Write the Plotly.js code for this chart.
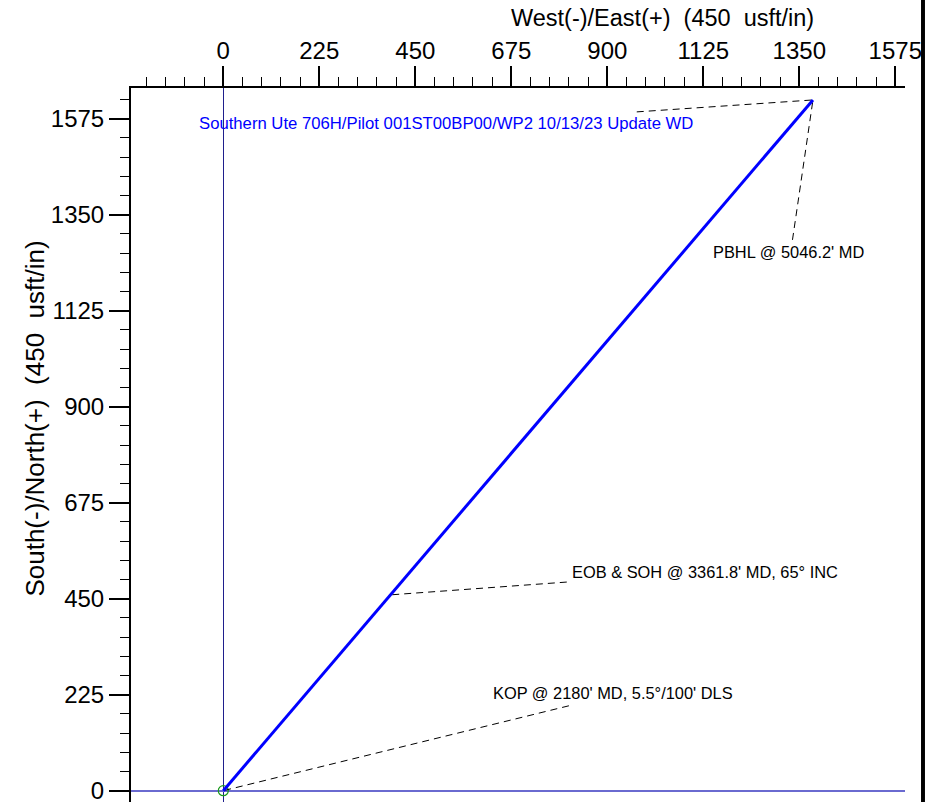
<!DOCTYPE html>
<html>
<head>
<meta charset="utf-8">
<script src="https://cdn.plot.ly/plotly-3.0.1.min.js"></script>
<style>
html,body{margin:0;padding:0;background:#fff;}
#chart{width:932px;height:802px;}
</style>
</head>
<body>
<div id="chart"></div>
<script>
// Well path (plan view), usft
const pathEast  = [0, 0, 392, 1382];
const pathNorth = [0, 0, 459, 1619];

// Annotated points on the path: index into path arrays
const labelNames = [
  "Southern Ute 706H/Pilot 001ST00BP00/WP2 10/13/23 Update WD",
  "PBHL @ 5046.2' MD",
  "EOB & SOH @ 3361.8' MD, 65° INC",
  "KOP @ 2180' MD, 5.5°/100' DLS"
];
const labelPointIdx = [3, 3, 2, 1];
// Label text positions (data units)
const labelEast  = [521, 1325, 1128, 914];
const labelNorth = [1563, 1263, 513, 228];
// Leader line start points (data units)
const leaderEast  = [969, 1334, 805, 810];
const leaderNorth = [1591, 1291, 489, 199];
const labelColors = ["#0000ff", "#000000", "#000000", "#000000"];
const labelSizes  = [16.7, 16.4, 16.4, 16.4];

// Axis ticks
const tickVals = [0, 225, 450, 675, 900, 1125, 1350, 1575];
const tickText = ["0", "225", "450", "675", "900", "1125", "1350", "1575"];

const xTitle = "West(-)/East(+)\u00a0 (450\u00a0 usft/in)";
const yTitle = "South(-)/North(+)\u00a0 (450\u00a0 usft/in)";

const FONT = "Liberation Sans, Arial, sans-serif";

const traces = [];
// Surface location marker
traces.push({
  x: [pathEast[0]], y: [pathNorth[0]],
  mode: "markers", type: "scatter", hoverinfo: "skip",
  marker: {symbol: "circle-open", size: 10, color: "#1a9a1a", line: {width: 1.2, color: "#1a9a1a"}},
  showlegend: false
});
// Leader lines
for (let i = 0; i < labelNames.length; i++) {
  const p = labelPointIdx[i];
  traces.push({
    x: [leaderEast[i], pathEast[p]], y: [leaderNorth[i], pathNorth[p]],
    mode: "lines", type: "scatter", hoverinfo: "skip", showlegend: false,
    line: {color: "#000000", width: 1, dash: "7px,5px"}
  });
}
// Well path
traces.push({
  x: pathEast, y: pathNorth,
  mode: "lines", type: "scatter", hoverinfo: "skip", showlegend: false,
  line: {color: "#0000ff", width: 3}
});

const annotations = labelNames.map((t, i) => ({
  x: labelEast[i], y: labelNorth[i], xref: "x", yref: "y",
  text: t, showarrow: false, xanchor: "center", yanchor: "middle",
  font: {family: FONT, size: labelSizes[i], color: labelColors[i]}
}));
annotations.push({
  x: 0.6867, y: 1.098, xref: "paper", yref: "paper",
  text: xTitle, showarrow: false,
  xanchor: "center", yanchor: "middle",
  font: {family: FONT, size: 23.5, color: "#000"}
});
annotations.push({
  x: -0.124, y: 0.537, xref: "paper", yref: "paper",
  text: yTitle, showarrow: false, textangle: -90,
  xanchor: "center", yanchor: "middle",
  font: {family: FONT, size: 26, color: "#000"}
});

const axisCommon = {
  showgrid: false, showline: true, linecolor: "#000", linewidth: 2,
  ticks: "outside", ticklen: 20, tickwidth: 2, tickcolor: "#000",
  tickmode: "array", tickvals: tickVals, ticktext: tickText,
  tickfont: {family: FONT, size: 24, color: "#000"},
  ticklabeloverflow: "allow",
  minor: {dtick: 45, tick0: 0, ticklen: 9, tickwidth: 1, tickcolor: "#000", ticks: "outside", showgrid: false},
  zeroline: true, fixedrange: true
};

const layout = {
  width: 932, height: 802,
  margin: {l: 131, r: 27, t: 88, b: 0, pad: 0},
  paper_bgcolor: "#fff", plot_bgcolor: "#fff",
  showlegend: false,
  xaxis: Object.assign({}, axisCommon, {
    side: "top", range: [-216.3, 1597.7],
    ticklabelstandoff: -3,
    zerolinecolor: "#1f1f8c", zerolinewidth: 1
  }),
  yaxis: Object.assign({}, axisCommon, {
    range: [-26.5, 1647],
    zerolinecolor: "#6a6ad0", zerolinewidth: 2
  }),
  annotations: annotations,
  shapes: [{
    type: "rect", xref: "paper", yref: "paper",
    x0: 1.0207, x1: 1.0258, y0: -0.05, y1: 1.2,
    fillcolor: "#000", line: {width: 0}
  }]
};

Plotly.newPlot("chart", traces, layout, {displayModeBar: false, staticPlot: true});
</script>
</body>
</html>
